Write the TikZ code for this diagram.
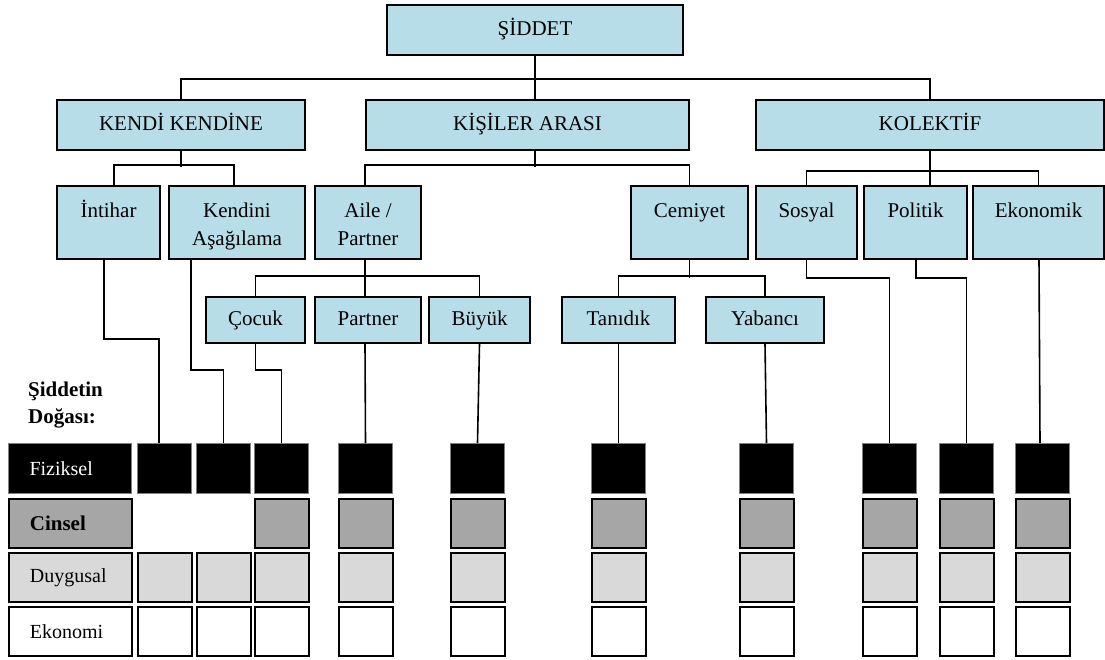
\documentclass[tikz,border=0pt]{standalone}
\usepackage{fontspec}
\setmainfont{Liberation Serif}
\usetikzlibrary{calc}
\definecolor{treeblue}{HTML}{B7DDE8}
\definecolor{cgray}{HTML}{A6A6A6}
\definecolor{dgray}{HTML}{D9D9D9}
\newcommand{\tfont}{\fontsize{21}{28}\selectfont}
\newcommand{\gfont}{\fontsize{20}{24}\selectfont}
\begin{document}
\begin{tikzpicture}[x=1pt,y=-1pt,
  tbox/.style={draw=black, line width=2pt, fill=treeblue, inner sep=0pt,
    font=\tfont, align=center, anchor=north west, execute at begin node=\strut},
  lthree/.style={draw=black, line width=2pt, fill=treeblue, inner sep=0pt,
    anchor=north west, minimum height=73pt},
  ttext/.style={font=\tfont, align=center, inner sep=0pt, anchor=north},
  link/.style={line width=1.6pt},
  cellbase/.style={anchor=north west, minimum width=54pt, inner sep=0pt},
  cellF/.style={cellbase, fill=black, draw=black!50, line width=1pt, minimum height=50pt},
  cellC/.style={cellbase, fill=cgray, draw=black, line width=1.8pt, minimum height=49pt},
  cellD/.style={cellbase, fill=dgray, draw=black, line width=1.8pt, minimum height=49pt},
  cellE/.style={cellbase, fill=white, draw=black, line width=1.8pt, minimum height=49pt},
  labcell/.style={minimum width=123pt, text width=81pt, inner xsep=21pt, inner ysep=0pt, align=left, font=\gfont}
]
\useasboundingbox (0,0) rectangle (1105,659);

% level 1
\node[tbox, minimum width=296pt, minimum height=50pt] (sid) at (386,4) {ŞİDDET};
% level 2
\node[tbox, minimum width=248pt, minimum height=50pt] (kk) at (56,99) {KENDİ KENDİNE};
\node[tbox, minimum width=323pt, minimum height=50pt] (ka) at (365,99) {KİŞİLER ARASI};
\node[tbox, minimum width=348pt, minimum height=50pt] (kol) at (755,99) {KOLEKTİF};
% level 3 (boxes, then their texts)
\node[lthree, minimum width=103pt] (int) at (56,185) {};
\node[lthree, minimum width=136pt] (kas) at (168,185) {};
\node[lthree, minimum width=106pt] (aile) at (314,185) {};
\node[lthree, minimum width=117pt] (cem) at (630,185) {};
\node[lthree, minimum width=101pt] (sos) at (755,185) {};
\node[lthree, minimum width=103pt] (pol) at (863,185) {};
\node[lthree, minimum width=131pt] (eko) at (972,185) {};
\node[ttext] (intT) at ([yshift=-12.4pt]int.north) {\strut İntihar};
\node[ttext] (kasT) at ([yshift=-12.4pt]kas.north) {\strut Kendini\\\strut Aşağılama};
\node[ttext] (aileT) at ([yshift=-12.4pt]aile.north) {\strut Aile /\\\strut Partner};
\node[ttext] (cemT) at ([yshift=-12.4pt]cem.north) {\strut Cemiyet};
\node[ttext] (sosT) at ([yshift=-12.4pt]sos.north) {\strut Sosyal};
\node[ttext] (polT) at ([yshift=-12.4pt]pol.north) {\strut Politik};
\node[ttext] (ekoT) at ([yshift=-12.4pt]eko.north) {\strut Ekonomik};
% level 4
\node[tbox, minimum width=99pt, minimum height=46pt] (coc) at (205,296) {Çocuk};
\node[tbox, minimum width=106pt, minimum height=46pt] (par) at (314,296) {Partner};
\node[tbox, minimum width=101pt, minimum height=46pt] (buy) at (428,296) {Büyük};
\node[tbox, minimum width=113pt, minimum height=46pt] (tan) at (561,296) {Tanıdık};
\node[tbox, minimum width=118pt, minimum height=46pt] (yab) at (705,296) {Yabancı};

% nature-of-violence label
\node[anchor=west, align=left, inner sep=0pt, font=\fontsize{21}{27}\selectfont\bfseries] (sdl) at (28,405) {Şiddetin\\Doğası:};

% grid labels
\node[cellF, labcell, text=white] (fL) at (8,443) {Fiziksel};
\node[cellC, labcell, font=\fontsize{21}{24}\selectfont\bfseries] (cL) at (8,498) {Cinsel};
\node[cellD, labcell] (dL) at (8,552) {Duygusal};
\node[cellE, labcell] (eL) at (8,606) {Ekonomi};

% grid columns
\foreach \x [count=\i] in {137,196,254,338,450,591,739,862,939,1015} {
  \node[cellF] (f\i) at (\x,443) {};
  \ifnum\i>2 \node[cellC] (c\i) at (\x,498) {}; \fi
  \node[cellD] (d\i) at (\x,552) {};
  \node[cellE] (e\i) at (\x,606) {};
}

% connectors: top
\draw[link] (sid.south) -- (sid.south |- ka.north);
\draw[link] (kk.north) -- ++(0,-20) -| (kol.north);
% KENDI KENDINE
\draw[link] (kk.south) -- ++(0,16);
\draw[link] ([xshift=58pt]int.north west) -- ++(0,-20) -| ([xshift=66pt]kas.north west);
% KISILER ARASI
\draw[link] (ka.south -| sid.south) -- ++(0,16);
\draw[link] ([xshift=51pt]aile.north west) -- ++(0,-20) -| (cem.north);
% KOLEKTIF
\draw[link] (kol.south) -- (kol.south |- pol.north);
\draw[link] (sos.north) -- ++(0,-14) -| (eko.north);
% Aile / Partner
\draw[link] ([xshift=51pt]aile.south west) -- ([xshift=51pt]par.north west);
\draw[link] (coc.north) -- ++(0,-20) -| (buy.north);
% Cemiyet
\draw[link] (cem.south) -- ++(0,18);
\draw[link] (tan.north) -- ++(0,-20) -| (yab.north);

% connectors to the grid
\draw[link] ([xshift=48pt]int.south west) -- ++(0,79) -| ([xshift=22pt]f1.north west);
\draw[link] ([xshift=23pt]kas.south west) -- ++(0,110) -| (f2.north);
\draw[link] (coc.south) -- ++(0,26) -| (f3.north);
\draw[link] ([xshift=51pt]par.south west) -- (f4.north);
\draw[link] (buy.south) -- (f5.north);
\draw[link] (tan.south) -- (f6.north);
\draw[link] (yab.south) -- (f7.north);
\draw[link] (sos.south) -- ++(0,18) -| (f8.north);
\draw[link] ([xshift=53pt]pol.south west) -- ++(0,18) -| (f9.north);
\draw[link] ([xshift=67pt]eko.south west) -- ([xshift=25pt]f10.north west);
\end{tikzpicture}
\end{document}
